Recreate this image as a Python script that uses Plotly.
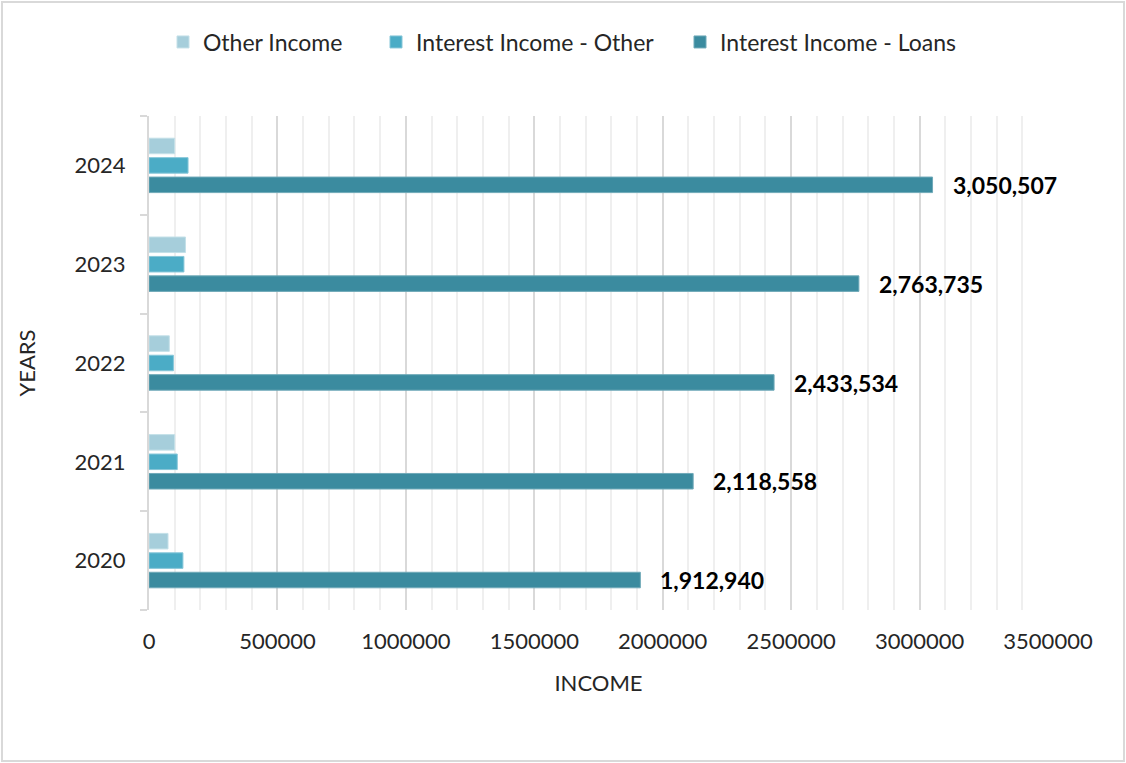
import plotly.graph_objects as go

years = ["2020", "2021", "2022", "2023", "2024"]
other_income = [74000, 100000, 79000, 142000, 100000]
interest_other = [132000, 110000, 95000, 136000, 152000]
interest_loans = [1912940, 2118558, 2433534, 2763735, 3050507]

x_ticks = [0, 500000, 1000000, 1500000, 2000000, 2500000, 3000000, 3500000]

c_other = "#a6cedb"
c_int_other = "#4bacc6"
c_loans = "#3b8b9f"

FONT = "Lato"
W, H = 1126, 763
ML, MR, MT, MB = 149, 78, 116, 153
pw = W - ML - MR
ph = H - MT - MB

# one legend per series so each entry sits at its own spot along the top
legend_left_px = {"legend": 163, "legend2": 376, "legend3": 680}

fig = go.Figure()
# bottom-to-top order inside each year group
fig.add_trace(go.Bar(y=years, x=interest_loans, orientation="h", name="Interest Income - Loans",
                     legend="legend3",
                     marker=dict(color=c_loans, line=dict(color="#6fa9b8", width=1))))
fig.add_trace(go.Bar(y=years, x=interest_other, orientation="h", name="Interest Income - Other",
                     legend="legend2",
                     marker=dict(color=c_int_other, line=dict(color="#86c6d8", width=1))))
fig.add_trace(go.Bar(y=years, x=other_income, orientation="h", name="Other Income",
                     legend="legend",
                     marker=dict(color=c_other, line=dict(color="#c4e0e8", width=1))))

# value labels at the end of the loan bars
for i, v in enumerate(interest_loans):
    fig.add_annotation(x=v, y=i, text=f"<b>{v:,}</b>", showarrow=False,
                       xanchor="left", yanchor="middle", xshift=18, yshift=-19.5,
                       font=dict(family=FONT, size=23, color="#000000"))

fig.add_shape(type="rect", xref="paper", yref="paper",
              x0=(2 - ML) / pw, x1=(W - 2 - ML) / pw,
              y0=-(H - 2 - MT - ph) / ph, y1=(MT - 2) / ph + 1,
              line=dict(color="#d9d9d9", width=2), fillcolor="rgba(0,0,0,0)", layer="below")


def legend_box(left_px):
    return dict(orientation="h", x=(left_px - ML) / pw, xanchor="left",
                y=1 + (MT - 42) / ph, yanchor="middle",
                font=dict(family=FONT, size=23, color="#262626"),
                itemwidth=30, itemclick=False, bgcolor="rgba(0,0,0,0)")


fig.update_layout(
    width=W, height=H,
    margin=dict(l=ML, r=MR, t=MT, b=MB),
    paper_bgcolor="white", plot_bgcolor="white",
    barmode="group", bargap=0.41, bargroupgap=0.2,
    font=dict(family=FONT, size=22, color="#262626"),
    legend=legend_box(legend_left_px["legend"]),
    legend2=legend_box(legend_left_px["legend2"]),
    legend3=legend_box(legend_left_px["legend3"]),
    showlegend=True,
)

fig.update_xaxes(
    range=[0, 3500000], tickvals=x_ticks, ticktext=[str(t) for t in x_ticks],
    showgrid=True, gridcolor="#d9d9d9", gridwidth=2,
    minor=dict(dtick=100000, tick0=0, showgrid=True, gridcolor="#efefef", gridwidth=2),
    zeroline=False, showline=False, ticks="",
    ticklabelstandoff=16,
    tickfont=dict(size=22, color="#262626"),
    title=dict(text="INCOME", font=dict(size=22, color="#262626"), standoff=22),
)
fig.update_yaxes(
    type="category", categoryorder="array", categoryarray=years,
    range=[-0.5, len(years) - 0.5], autorange=False,
    showgrid=False, showline=True, linecolor="#d9d9d9", linewidth=2,
    ticks="outside", ticklen=7, tickcolor="#d9d9d9", tickwidth=2, tickson="boundaries",
    ticklabelstandoff=17,
    tickfont=dict(size=22, color="#262626"),
    title=dict(text="YEARS", font=dict(size=22, color="#262626"), standoff=33),
)

fig.write_html("out.html")
